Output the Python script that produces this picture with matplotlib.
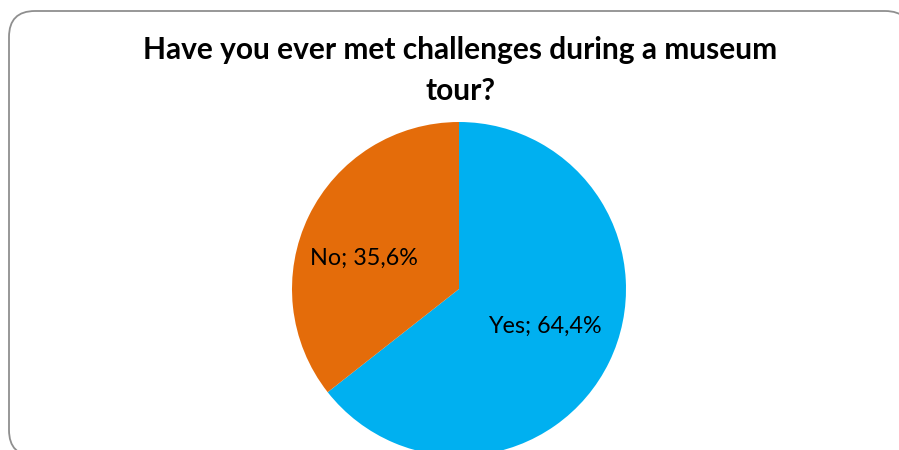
import numpy as np
import matplotlib.pyplot as plt
from matplotlib.patches import FancyBboxPatch

labels = ['Yes', 'No']
shares = [64.4, 35.6]
colors = ['#00B0F0', '#E46C0A']
title = 'Have you ever met challenges during a museum\ntour?'

W, H = 899, 450
cx, cy, R = 459, H - 289, 167

fig = plt.figure(figsize=(W / 100, H / 100), dpi=100)
ax = fig.add_axes([0, 0, 1, 1])

# chart frame, runs past the right and bottom edges
frame = FancyBboxPatch((9, -6), 902, H - 11 + 6,
                       boxstyle='round,pad=0,rounding_size=26',
                       facecolor='white', edgecolor='#8f8f8f', linewidth=1.3)
ax.add_patch(frame)

wedges, texts = ax.pie(shares, colors=colors, startangle=90, counterclock=False,
                       center=(cx, cy), radius=R, frame=True,
                       labels=[f'{l}; {v:.1f}%'.replace('.', ',') for l, v in zip(labels, shares)],
                       wedgeprops=dict(linewidth=0),
                       textprops=dict(fontsize=16.8, family='Lato', color='black'))

# best-fit style label placement inside each slice
place = [(-23.5, 0.56), (162, 0.60)]
for t, (ang, r) in zip(texts, place):
    a = np.deg2rad(ang)
    t.set_position((cx + r * R * np.cos(a), cy + r * R * np.sin(a)))
    t.set_ha('center')
    t.set_va('center')

ax.set_xlim(0, W)
ax.set_ylim(0, H)
ax.set_aspect('equal')
ax.axis('off')

ax.text(460, H - 36, title, ha='center', va='top', fontsize=21.5,
        fontweight='bold', family='Lato', linespacing=1.55)

fig.savefig('out.png', dpi=100)
